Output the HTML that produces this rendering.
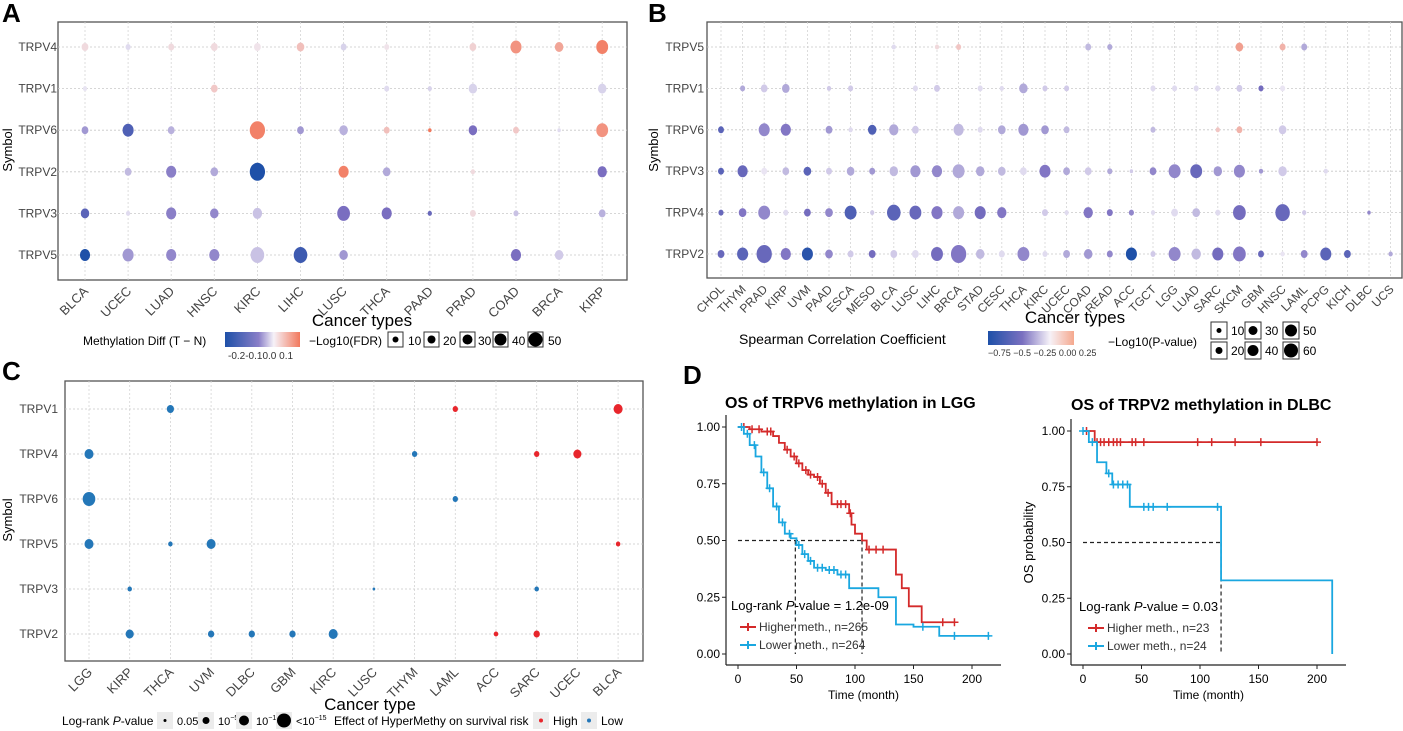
<!DOCTYPE html>
<html><head><meta charset="utf-8"><style>
body{margin:0;background:#fff}
svg{display:block;font-family:"Liberation Sans",sans-serif}
</style></head><body>
<svg id="fig" width="1403" height="731" viewBox="0 0 1403 731">
<g id="gA"></g>
<g id="gB"></g>
<g id="gC"></g>
<g id="gD"></g>
</svg>
<script>
// ===== Panel A data =====
const aCats = ["BLCA","UCEC","LUAD","HNSC","KIRC","LIHC","LUSC","THCA","PAAD","PRAD","COAD","BRCA","KIRP"];
const aRows = ["TRPV4","TRPV1","TRPV6","TRPV2","TRPV3","TRPV5"];
const aDiff = [
 [.02,-.02,.02,.02,.01,.05,-.03,.01,0,.03,.1,.08,.12],
 [-.01,0,0,.04,0,-.01,0,-.02,-.03,-.03,0,0,-.03],
 [-.1,-.22,-.07,0,.12,-.1,-.07,.05,.15,-.15,.04,-.02,.1],
 [0,-.06,-.13,-.08,-.3,0,.12,-.08,0,.02,0,0,-.15],
 [-.2,-.02,-.13,-.12,-.05,0,-.15,-.15,-.18,.02,-.05,0,-.07],
 [-.3,-.1,-.12,-.12,-.05,-.25,-.1,0,0,0,-.15,-.04,0]];
const aFdr = [
 [4,3,3.5,4,4,4.5,3.5,3,0,4,6.5,5,7],
 [2.5,1,1,4,1,1.5,0,3,2.5,5,1,1,5],
 [4,6.5,4,0,9,4,5,3.5,2,5,3.5,2,7],
 [0,4,6,4.5,9,0,6,4.5,0,2.5,0,0,5.5],
 [5,2.5,6,5,5.5,0,7.5,6,2.5,3.5,3,0,4],
 [6,6.5,6,6,8,8,5,0,0,0,6,5,0]];
// ===== Panel B data =====
const bCats = ["CHOL","THYM","PRAD","KIRP","UVM","PAAD","ESCA","MESO","BLCA","LUSC","LIHC","BRCA","STAD","CESC","THCA","KIRC","UCEC","COAD","READ","ACC","TGCT","LGG","LUAD","SARC","SKCM","GBM","HNSC","LAML","PCPG","KICH","DLBC","UCS"];
const bRows = ["TRPV5","TRPV1","TRPV6","TRPV3","TRPV4","TRPV2"];
const bCor = [
 [0,0,0,0,0,0,0,0,-.05,0,.05,.1,0,0,0,0,0,-.15,-.2,0,0,0,0,0,.2,0,.15,-.2,0,0,0,0],
 [0,-.2,-.1,-.2,0,-.1,-.1,0,0,-.05,-.1,0,-.05,-.05,-.2,-.1,-.1,0,0,0,-.05,-.05,-.05,-.05,-.1,-.4,-.02,0,0,0,0,0],
 [-.5,0,-.3,-.35,0,-.25,-.05,-.55,-.2,-.1,0,-.15,-.05,-.2,-.25,-.25,-.15,0,0,0,-.15,0,0,.1,.15,0,-.1,0,0,0,0,0],
 [-.5,-.45,-.02,-.15,-.5,-.1,-.2,-.25,-.15,-.25,-.3,-.2,-.2,-.15,-.05,-.35,-.2,-.1,-.2,-.1,-.3,-.3,-.45,-.25,-.3,-.25,-.1,0,-.05,0,0,0],
 [-.45,-.35,-.3,-.05,-.4,-.3,-.55,-.1,-.5,-.45,-.35,-.2,-.4,-.35,0,-.1,-.05,-.35,-.35,-.3,-.05,-.05,-.15,-.05,-.4,0,-.45,-.1,0,0,-.3,0],
 [-.45,-.5,-.45,-.35,-.7,-.3,-.1,-.4,-.1,-.05,-.4,-.35,-.15,-.05,-.3,-.05,-.2,-.25,-.3,-.75,-.1,-.3,-.15,-.4,-.35,-.45,-.02,-.3,-.5,-.5,0,-.2]];
const bP = [
 [0,0,0,0,0,0,0,0,2.5,0,2.5,3,0,0,0,0,0,3.5,3,0,0,0,0,0,4.5,0,3.5,3.5,0,0,0,0],
 [0,3,4,4.5,0,2.5,3,0,0,3,3.5,0,3,2.5,5,3,3,0,0,0,3,3,3,3,3.5,3,3,0,0,0,0,0],
 [3.5,0,6.5,6,0,4,2.5,5,5.5,4,0,6,3,4.5,6,4.5,3.5,0,0,0,3,0,0,2.5,3.5,0,4.5,0,0,0,0,0],
 [3.5,6,3.5,4,4.5,3.5,4.5,3.5,5,6,6,7,5,4.5,4,6.5,4,4,3,2,4,7,7,5,6.5,2.5,5,0,2.5,0,0,0],
 [3,4.5,7,3,4,4.5,7,2.5,8,7,6.5,6.5,6.5,5.5,0,3.5,2.5,5.5,3.5,3,2.5,4,4.5,3,7.5,0,8.5,2.5,0,0,2,0],
 [4,6.5,9,6,6.5,4.5,3.5,4,4,4,7,9,5,3.5,7,3,4,5,3.5,6.5,3,7,5.5,6.5,7.5,3.5,2.5,4,6.5,4,0,2.5]];
// ===== Panel C data =====
const cCats = ["LGG","KIRP","THCA","UVM","DLBC","GBM","KIRC","LUSC","THYM","LAML","ACC","SARC","UCEC","BLCA"];
const cRows = ["TRPV1","TRPV4","TRPV6","TRPV5","TRPV3","TRPV2"];
// [row, col, size, effect(1 high,0 low)]
const cPoints = [[0,2,4,0],[0,9,3,1],[0,13,5,1],[1,0,5,0],[1,8,3,0],[1,11,3,1],[1,12,4.5,1],
 [2,0,7,0],[2,9,3,0],[3,0,5,0],[3,2,2.5,0],[3,3,5,0],[3,13,2.5,1],[4,1,2.5,0],[4,7,1.5,0],[4,11,2.5,0],
 [5,1,4.5,0],[5,3,3.5,0],[5,4,3.5,0],[5,5,3.5,0],[5,6,5,0],[5,10,2.5,1],[5,11,3.5,1]];
// ===== Panel D data =====
const d1HighT=[0,10,20,30,35,40,45,50,55,60,65,70,75,80,95,97,100,106,110,125,135,140,146,157,185];
const d1HighS=[1,.99,.98,.96,.93,.90,.87,.84,.81,.79,.78,.75,.71,.66,.62,.57,.53,.50,.46,.46,.35,.29,.21,.14,.14];
const d1LowT=[0,5,10,15,20,25,30,35,40,45,50,55,60,65,75,85,95,120,135,150,172,215];
const d1LowS=[1,.97,.92,.87,.80,.73,.65,.58,.53,.51,.48,.44,.41,.38,.37,.35,.29,.25,.13,.12,.08,.08];
const d1HighCens=[5,12,18,25,28,42,48,52,58,62,68,72,77,85,88,92,96,112,118,124,175,185];
const d1LowCens=[3,8,14,22,27,33,38,44,52,57,62,68,72,78,82,88,92,158,185,214];
const d2HighT=[0,8,10,200];
const d2HighS=[1,1,.95,.95];
const d2LowT=[0,5,12,20,25,40,118,213,213];
const d2LowS=[1,.95,.86,.81,.76,.66,.33,.33,0];
const d2HighCens=[3,12,15,18,22,26,29,32,42,45,52,98,110,130,152,200];
const d2LowCens=[0,8,22,26,30,34,38,52,56,60,72,115];
const yTicks=[0,.25,.5,.75,1];
const xTicks=[0,50,100,150,200];

const NS="http://www.w3.org/2000/svg";
function mk(parent,tag,attrs,text){const e=document.createElementNS(NS,tag);for(const k in attrs)e.setAttribute(k,attrs[k]);if(text!==undefined)e.textContent=text;parent.appendChild(e);return e;}
function lerp(a,b,t){return a.map((v,i)=>Math.round(v+(b[i]-v)*t));}
function rgb(c){return `rgb(${c[0]},${c[1]},${c[2]})`;}
function divColor(v,negMax,posMax){
  const W=[240,236,246],P=[122,110,192],B=[30,80,168],R=[242,120,92];
  if(v>=0){return rgb(lerp(W,R,Math.min(1,v/posMax)));}
  const t=Math.min(1,-v/negMax);
  return t<0.5?rgb(lerp(W,P,t*2)):rgb(lerp(P,B,(t-0.5)*2));
}
function dotPanel(g,o){
  mk(g,'rect',{x:o.x0,y:o.y0,width:o.x1-o.x0,height:o.y1-o.y0,fill:'#fff',stroke:'#555','stroke-width':1.3});
  const xs=i=>o.cx0+i*o.step, ys=j=>o.ry[0]+j*(o.ry[1]-o.ry[0])/(o.rows.length-1);
  o.cats.forEach((c,i)=>{mk(g,'line',{x1:xs(i),x2:xs(i),y1:o.y0,y2:o.y1,stroke:'#d4d4d4','stroke-dasharray':'2,2','stroke-width':0.8});
    const t=mk(g,'text',{x:xs(i)+4,y:o.y1+12,'font-size':o.tfs,fill:'#444','text-anchor':'end',transform:`rotate(-45 ${xs(i)+4} ${o.y1+12})`},c);
    
    });
  o.rows.forEach((r,j)=>{mk(g,'line',{x1:o.x0,x2:o.x1,y1:ys(j),y2:ys(j),stroke:'#c8c8c8','stroke-dasharray':'2,2','stroke-width':0.8});
    const t=mk(g,'text',{x:o.lx,y:ys(j)+4,'font-size':12,fill:'#444','text-anchor':'end'},r);
    
    });
  return {xs,ys};
}
// ===== Panel A =====
(function(){
  const g=document.getElementById('gA');
  mk(g,'text',{x:2,y:22,'font-size':26,'font-weight':'bold'},'A');
  const s=dotPanel(g,{x0:58,x1:627,y0:22,y1:280,cats:aCats,rows:aRows,cx0:85,step:43.1,ry:[47,255],lx:57,tfs:13});
  aRows.forEach((r,j)=>aCats.forEach((c,i)=>{const v=aFdr[j][i];if(!v)return;
    const d=mk(g,'ellipse',{cx:s.xs(i),cy:s.ys(j),rx:v*0.85,ry:v,fill:divColor(aDiff[j][i],0.3,0.13)});
    
    }));
  mk(g,'text',{x:12,y:150,'font-size':13,'text-anchor':'middle',transform:'rotate(-90 12 150)'},'Symbol');
  mk(g,'text',{x:362,y:326,'font-size':17,'text-anchor':'middle'},'Cancer types');
  mk(g,'text',{x:83,y:345,'font-size':12},'Methylation Diff (T − N)');
  const gr=mk(g,'defs',{});const lg=mk(gr,'linearGradient',{id:'gradA'});
  [['0','#1e50a8'],['0.45','#8a7fc8'],['0.65','#f6f2f8'],['1','#f2785c']].forEach(s2=>mk(lg,'stop',{offset:s2[0],'stop-color':s2[1]}));
  mk(g,'rect',{x:225,y:332,width:75,height:15,fill:'url(#gradA)'});
  mk(g,'text',{x:228,y:359,'font-size':10,fill:'#333'},'-0.2-0.10.0 0.1');
  mk(g,'text',{x:309,y:345,'font-size':12},'−Log10(FDR)');
  [[388,408,'10',3],[424,443,'20',4],[460,478,'30',5],[493,512,'40',6],[528,548,'50',7]].forEach(b=>{
    mk(g,'rect',{x:b[0],y:332,width:15,height:15,fill:'#fff',stroke:'#333'});
    mk(g,'circle',{cx:b[0]+7.5,cy:339.5,r:b[3],fill:'#000'});
    mk(g,'text',{x:b[1],y:345,'font-size':12},b[2]);});
})();
// ===== Panel B =====
(function(){
  const g=document.getElementById('gB');
  mk(g,'text',{x:648,y:22,'font-size':26,'font-weight':'bold'},'B');
  const s=dotPanel(g,{x0:707,x1:1402,y0:22,y1:278,cats:bCats,rows:bRows,cx0:721,step:21.6,ry:[47,254],lx:704,tfs:12});
  bRows.forEach((r,j)=>bCats.forEach((c,i)=>{const v=bP[j][i];if(!v)return;
    const d=mk(g,'ellipse',{cx:s.xs(i),cy:s.ys(j),rx:v*0.85,ry:v,fill:divColor(bCor[j][i],0.75,0.3)});
    
    }));
  mk(g,'text',{x:658,y:150,'font-size':13,'text-anchor':'middle',transform:'rotate(-90 658 150)'},'Symbol');
  mk(g,'text',{x:1075,y:323,'font-size':17,'text-anchor':'middle'},'Cancer types');
  mk(g,'text',{x:739,y:344,'font-size':14},'Spearman Correlation Coefficient');
  const gr=mk(g,'defs',{});const lg=mk(gr,'linearGradient',{id:'gradB'});
  [['0','#1e50a8'],['0.4','#7a70c0'],['0.72','#f6f2f8'],['1','#f5a88e']].forEach(s2=>mk(lg,'stop',{offset:s2[0],'stop-color':s2[1]}));
  mk(g,'rect',{x:988,y:331,width:86,height:14,fill:'url(#gradB)'});
  mk(g,'text',{x:988,y:356,'font-size':9,fill:'#333'},'−0.75 −0.5 −0.25 0.00 0.25');
  mk(g,'text',{x:1108,y:346,'font-size':12},'−Log10(P-value)');
  [[1211,330,'10',2.5],[1245,330,'30',4.5],[1283,330,'50',6],[1211,350,'20',3.5],[1245,350,'40',5.5],[1283,350,'60',7]].forEach(b=>{
    mk(g,'rect',{x:b[0],y:b[1]-8,width:16,height:17,fill:'#fff',stroke:'#333'});
    mk(g,'circle',{cx:b[0]+8,cy:b[1]+0.5,r:b[3],fill:'#000'});
    mk(g,'text',{x:b[0]+20,y:b[1]+5,'font-size':12},b[2]);});
})();
// ===== Panel C =====
(function(){
  const g=document.getElementById('gC');
  mk(g,'text',{x:2,y:380,'font-size':26,'font-weight':'bold'},'C');
  const s=dotPanel(g,{x0:65,x1:643,y0:381,y1:661,cats:cCats,rows:cRows,cx0:89,step:40.7,ry:[409,634],lx:58,tfs:13});
  cPoints.forEach(p=>{const d=mk(g,'ellipse',{cx:s.xs(p[1]),cy:s.ys(p[0]),rx:p[2]*0.9,ry:p[2],fill:p[3]?'#e8262c':'#2477b8'});
    
    });
  mk(g,'text',{x:12,y:520,'font-size':13,'text-anchor':'middle',transform:'rotate(-90 12 520)'},'Symbol');
  mk(g,'text',{x:370,y:710,'font-size':17,'text-anchor':'middle'},'Cancer type');
  const t=mk(g,'text',{x:62,y:725,'font-size':12});t.innerHTML='Log-rank <tspan font-style="italic">P</tspan>-value';
  [[157,164,1.5,'0.05',''],[198,205,3.5,'10','−5'],[236,243,5,'10','−10'],[276,286,7,'<10','−15']].forEach(b=>{
    mk(g,'rect',{x:b[0],y:712,width:16,height:17,fill:'#ececec'});
    mk(g,'circle',{cx:b[0]+8,cy:720.5,r:b[2],fill:'#000'});
    const tt=mk(g,'text',{x:b[0]+20,y:725,'font-size':11},b[3]);
    if(b[4]) mk(tt,'tspan',{dy:-5,'font-size':7},b[4]);});
  mk(g,'text',{x:334,y:725,'font-size':12},'Effect of HyperMethy on survival risk');
  [[533,'#e8262c','High'],[581,'#2477b8','Low']].forEach(b=>{
    mk(g,'rect',{x:b[0],y:712,width:16,height:17,fill:'#ececec'});
    mk(g,'circle',{cx:b[0]+8,cy:720.5,r:2,fill:b[1]});
    mk(g,'text',{x:b[0]+20,y:725,'font-size':12},b[2]);});
})();
// ===== Panel D =====
function km(g,o){
  const X=t=>o.x0+t*(o.x200-o.x0)/200, Y=s=>o.y0+(1-s)*(o.y0b-o.y0);
  mk(g,'text',{x:o.tx,y:o.ty,'font-size':16,'font-weight':'bold'},o.title);
  mk(g,'line',{x1:o.ax,x2:o.ax,y1:o.y0-12,y2:o.axb,stroke:'#222','stroke-width':1.2});
  mk(g,'line',{x1:o.ax,x2:o.axr,y1:o.axb,y2:o.axb,stroke:'#222','stroke-width':1.2});
  yTicks.forEach(v=>{mk(g,'line',{x1:o.ax-4,x2:o.ax,y1:Y(v),y2:Y(v),stroke:'#222'});
    mk(g,'text',{x:o.ax-6,y:Y(v)+4,'font-size':12,'text-anchor':'end'},v.toFixed(2));});
  xTicks.forEach(v=>{mk(g,'line',{x1:X(v),x2:X(v),y1:o.axb,y2:o.axb+4,stroke:'#222'});
    mk(g,'text',{x:X(v),y:o.axb+18,'font-size':12,'text-anchor':'middle'},v);});
  mk(g,'text',{x:(o.ax+o.axr)/2,y:o.axb+34,'font-size':12,'text-anchor':'middle'},'Time (month)');
  if(o.ylx) mk(g,'text',{x:o.ylx,y:(o.y0+o.y0b)/2,'font-size':13,'text-anchor':'middle',transform:`rotate(-90 ${o.ylx} ${(o.y0+o.y0b)/2})`},'OS probability');
  mk(g,'path',{d:`M${X(0)},${Y(.5)}H${X(o.med[1])}`+o.med.map(m=>`M${X(m)},${Y(.5)}V${Y(0)}`).join(''),stroke:'#222','stroke-dasharray':'4,3',fill:'none','stroke-width':1.2});
  o.curves.forEach(c=>{
    let d=`M${X(c.t[0])},${Y(c.s[0])}`;
    for(let i=1;i<c.t.length;i++){d+=`H${X(c.t[i])}V${Y(c.s[i])}`;}
    const p=mk(g,'path',{d,stroke:c.col,fill:'none','stroke-width':1.8});
    
    
    const sAt=t=>{let s=c.s[0];for(let i=0;i<c.t.length;i++){if(c.t[i]<=t)s=c.s[i];}return s;};
    c.cens.forEach(t=>{const cx=X(t),cy=Y(sAt(t));mk(g,'path',{d:`M${cx-4},${cy}H${cx+4}M${cx},${cy-4}V${cy+4}`,stroke:c.col,'stroke-width':1.5});});
  });
  const lt=mk(g,'text',{x:o.lgx,y:o.lgy,'font-size':13});lt.innerHTML='Log-rank <tspan font-style="italic">P</tspan>-value = '+o.p;
  o.curves.forEach((c,i)=>{const y=o.lgy+21+i*18;
    mk(g,'path',{d:`M${o.lgx+9},${y-4}h16M${o.lgx+17},${y-8}v8`,stroke:c.col,'stroke-width':2});
    mk(g,'text',{x:o.lgx+28,y:y,'font-size':12,fill:'#333'},c.label);});
}
(function(){
  const g=document.getElementById('gD');
  mk(g,'text',{x:683,y:384,'font-size':26,'font-weight':'bold'},'D');
  const red='#d42a2a',blue='#1aa7e0';
  km(g,{x0:738,x200:972,y0:427,y0b:654,ax:726,axr:1001,axb:665,tx:725,ty:408,title:'OS of TRPV6 methylation in LGG',ylx:0,med:[49,106],p:'1.2e-09',lgx:731,lgy:610,
    curves:[{t:d1HighT,s:d1HighS,cens:d1HighCens,col:red,label:'Higher meth., n=265',name:'km-lgg-higher'},{t:d1LowT,s:d1LowS,cens:d1LowCens,col:blue,label:'Lower meth., n=264',name:'km-lgg-lower'}]});
  km(g,{x0:1083,x200:1317,y0:431,y0b:654,ax:1071,axr:1346,axb:665,tx:1071,ty:410,title:'OS of TRPV2 methylation in DLBC',ylx:1033,med:[118,118],p:'0.03',lgx:1079,lgy:611,
    curves:[{t:d2HighT,s:d2HighS,cens:d2HighCens,col:red,label:'Higher meth., n=23',name:'km-dlbc-higher'},{t:d2LowT,s:d2LowS,cens:d2LowCens,col:blue,label:'Lower meth., n=24',name:'km-dlbc-lower'}]});
})();
</script>
</body></html>
